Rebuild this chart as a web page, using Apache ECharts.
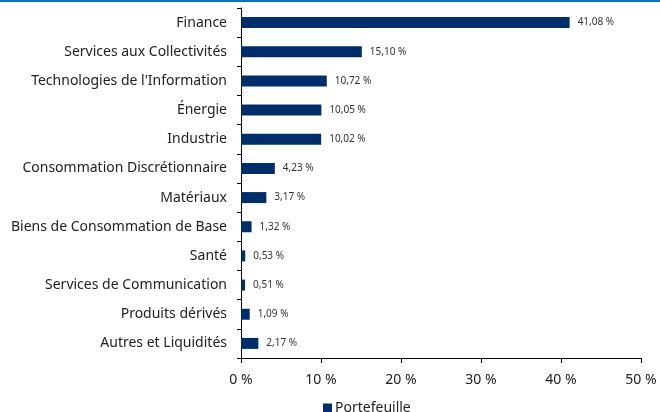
<!DOCTYPE html>
<html><head><meta charset="utf-8">
<script src="https://cdn.jsdelivr.net/npm/echarts@6/dist/echarts.min.js"></script>
<style>html,body{margin:0;padding:0;background:#fff}#c{width:660px;height:412px}#top{position:absolute;left:0;top:0;width:660px;height:2px;background:#0a72b8}</style>
</head><body><div id="c"></div><div id="top"></div>
<script>
const categories = ["Finance","Services aux Collectivités","Technologies de l'Information","Énergie","Industrie","Consommation Discrétionnaire","Matériaux","Biens de Consommation de Base","Santé","Services de Communication","Produits dérivés","Autres et Liquidités"];
const values = [41.08,15.10,10.72,10.05,10.02,4.23,3.17,1.32,0.53,0.51,1.09,2.17];
const seriesName = "Portefeuille";
const fmt = v => v.toFixed(2).replace('.', ',') + ' %';
const chart = echarts.init(document.getElementById('c'));
chart.setOption({
  animation:false,
  textStyle:{fontFamily:'Noto Sans'},
  grid:{left:241,right:19,top:8,bottom:54,containLabel:false},
  legend:{top:396,left:318,itemWidth:9,itemHeight:9,itemGap:5,icon:'rect',textStyle:{fontSize:14,color:'#222',fontFamily:'Noto Sans',padding:[0,0,0,-2]},data:[seriesName]},
  xAxis:{type:'value',min:0,max:50,interval:10,
    axisLine:{show:true,lineStyle:{color:'#000'}},
    axisTick:{show:true,length:5,lineStyle:{color:'#000'}},
    splitLine:{show:false},
    axisLabel:{formatter:v=>v+' %',fontSize:14,color:'#222',margin:15}},
  yAxis:{type:'category',data:categories,inverse:true,
    axisLine:{lineStyle:{color:'#000'}},
    axisTick:{show:true,length:4,lineStyle:{color:'#000'}},
    axisLabel:{fontSize:14,color:'#222',margin:14}},
  series:[{name:seriesName,type:'bar',data:values,barWidth:11,
    itemStyle:{color:'#002e6b'},
    label:{show:true,position:'right',distance:8,fontSize:10,color:'#333',formatter:p=>fmt(p.value)}}]
});
</script></body></html>
